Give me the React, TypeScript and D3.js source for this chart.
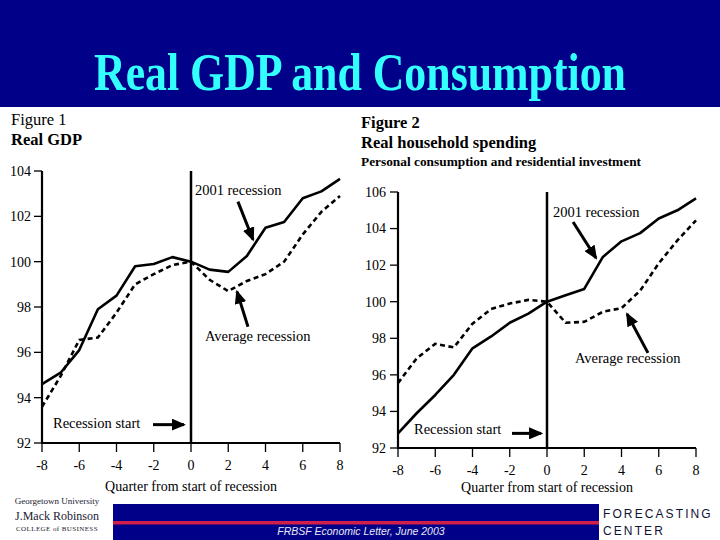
import React from 'react';
import * as d3 from 'd3';

// quarters from start of recession
const quarters = [-8, -7, -6, -5, -4, -3, -2, -1, 0, 1, 2, 3, 4, 5, 6, 7, 8];
const xTicks = [-8, -6, -4, -2, 0, 2, 4, 6, 8];

// Figure 1: real GDP (index, start of recession = 100)
const gdp2001 = [94.6, 95.1, 96.1, 97.9, 98.5, 99.8, 99.9, 100.2, 100.0, 99.65, 99.55, 100.25, 101.5, 101.75, 102.8, 103.1, 103.65];
const gdpAvg = [93.6, 94.95, 96.55, 96.65, 97.75, 99.0, 99.45, 99.85, 100.0, 99.2, 98.7, 99.15, 99.45, 100.0, 101.2, 102.2, 102.9];
const gdpTicks = [92, 94, 96, 98, 100, 102, 104];

// Figure 2: real household spending
const spend2001 = [92.8, 93.9, 94.9, 96.0, 97.45, 98.1, 98.85, 99.35, 100.0, 100.35, 100.7, 102.45, 103.3, 103.75, 104.55, 105.0, 105.65];
const spendAvg = [95.55, 96.9, 97.7, 97.5, 98.8, 99.6, 99.9, 100.1, 100.0, 98.85, 98.9, 99.45, 99.65, 100.6, 102.1, 103.35, 104.45];
const spendTicks = [92, 94, 96, 98, 100, 102, 104, 106];

interface Note {
  text: string;
  tx: number; ty: number;          // text anchor (data units)
  ax: number[]; ay: number[];      // arrow from -> to (data units)
}

const gdpNotes: Note[] = [
  { text: '2001 recession', tx: 0.21, ty: 102.95, ax: [2.52, 3.33], ay: [102.65, 100.97] },
  { text: 'Average recession', tx: 0.75, ty: 96.5, ax: [3.06, 2.47], ay: [97.13, 98.68] },
  { text: 'Recession start', tx: -7.41, ty: 92.68, ax: [-2.04, -0.38], ay: [92.81, 92.81] },
];
const spendNotes: Note[] = [
  { text: '2001 recession', tx: 0.32, ty: 104.63, ax: [1.4, 2.63], ay: [104.36, 102.39] },
  { text: 'Average recession', tx: 1.5, ty: 96.65, ax: [5.42, 4.3], ay: [97.2, 99.33] },
  { text: 'Recession start', tx: -7.14, ty: 92.77, ax: [-1.88, -0.32], ay: [92.8, 92.8] },
];

const serif = '"Liberation Serif", "DejaVu Serif", serif';
const sans = '"Liberation Sans", Arial, sans-serif';
const navy = '#000088';

interface PanelProps {
  left: number; right: number; top: number; bottom: number;
  yTicks: number[];
  solid: number[]; dashed: number[];
  notes: Note[];
  labelRight: number;
  xLabelY: number;
}

function Panel({ left, right, top, bottom, yTicks, solid, dashed, notes, labelRight, xLabelY }: PanelProps) {
  const x = d3.scaleLinear().domain([-8, 8]).range([left, right]);
  const y = d3.scaleLinear().domain([yTicks[0], yTicks[yTicks.length - 1]]).range([bottom, top]);
  const line = d3.line<number>()
    .x((_, i) => x(quarters[i]))
    .y(d => y(d))
    .curve(d3.curveLinear);

  return (
    <g>
      {/* axes */}
      <line x1={left} x2={left} y1={top} y2={bottom + 1} stroke="#000" strokeWidth={2.2} />
      <line x1={left - 1} x2={right} y1={bottom} y2={bottom} stroke="#000" strokeWidth={2.2} />
      {yTicks.map(t => (
        <g key={t}>
          <line x1={left - 8} x2={left} y1={y(t)} y2={y(t)} stroke="#000" strokeWidth={1.3} />
          <text x={labelRight} y={y(t)} dy="0.35em" textAnchor="end" fontSize={14} fontFamily={serif}>{t}</text>
        </g>
      ))}
      {xTicks.map(t => (
        <g key={t}>
          <line x1={x(t)} x2={x(t)} y1={bottom} y2={bottom + 9} stroke="#000" strokeWidth={1.3} />
          <text x={x(t)} y={bottom + 27} textAnchor="middle" fontSize={14} fontFamily={serif}>{t}</text>
        </g>
      ))}
      <text x={x(0)} y={xLabelY} textAnchor="middle" fontSize={14} fontFamily={serif}>Quarter from start of recession</text>

      {/* recession start */}
      <line x1={x(0)} x2={x(0)} y1={top} y2={bottom} stroke="#000" strokeWidth={2.5} />

      {/* series */}
      <path d={line(dashed) || ''} fill="none" stroke="#000" strokeWidth={2.6} strokeDasharray="5,3.5" />
      <path d={line(solid) || ''} fill="none" stroke="#000" strokeWidth={2.6} strokeLinejoin="round" />

      {/* annotations */}
      {notes.map(n => (
        <g key={n.text}>
          <text x={x(n.tx)} y={y(n.ty)} fontSize={14.5} fontFamily={serif}>{n.text}</text>
          <line x1={x(n.ax[0])} y1={y(n.ay[0])} x2={x(n.ax[1])} y2={y(n.ay[1])}
            stroke="#000" strokeWidth={3} markerEnd="url(#arrowhead)" />
        </g>
      ))}
    </g>
  );
}

export default function App() {
  return (
    <svg width={720} height={540} style={{ position: 'absolute', left: 0, top: 0, background: '#fff' }}>
      <defs>
        <marker id="arrowhead" markerUnits="userSpaceOnUse" markerWidth={14} markerHeight={12}
          refX={12} refY={6} orient="auto" viewBox="0 0 14 12">
          <path d="M0,0 L14,6 L0,12 Z" fill="#000" />
        </marker>
      </defs>

      {/* header */}
      <rect x={0} y={0} width={720} height={107} fill={navy} />
      <text x={360} y={75} textAnchor="middle" fontSize={44} fontWeight="bold" fontFamily={serif}
        fill="#33ffff" transform="translate(0,15) scale(1,1.2) translate(0,-12.5)" textLength={532} lengthAdjust="spacingAndGlyphs">
        Real GDP and Consumption
      </text>

      {/* figure 1 */}
      <text x={11} y={125} fontSize={16.5} fontFamily={serif}>Figure 1</text>
      <text x={11} y={145} fontSize={16.5} fontWeight="bold" fontFamily={serif}>Real GDP</text>
      <Panel left={42} right={340} top={171} bottom={443} yTicks={gdpTicks}
        solid={gdp2001} dashed={gdpAvg} notes={gdpNotes} labelRight={31} xLabelY={491} />

      {/* figure 2 */}
      <text x={361} y={128} fontSize={16.5} fontWeight="bold" fontFamily={serif}>Figure 2</text>
      <text x={361} y={148} fontSize={16.5} fontFamily={serif} fontWeight="600">Real household spending</text>
      <text x={361} y={166} fontSize={13} fontFamily={serif} fontWeight="600"
        textLength={280} lengthAdjust="spacingAndGlyphs">Personal consumption and residential investment</text>
      <Panel left={398} right={696} top={192} bottom={448} yTicks={spendTicks}
        solid={spend2001} dashed={spendAvg} notes={spendNotes} labelRight={386} xLabelY={492} />

      {/* footer */}
      <rect x={113} y={504} width={486} height={36} fill={navy} />
      <rect x={113} y={521} width={486} height={3.5} fill="#d0204a" />
      <text x={361} y={535} textAnchor="middle" fontSize={10.5} fontStyle="italic" fontFamily={sans} fill="#e8e8f0">
        FRBSF Economic Letter, June 2003
      </text>
      <text x={57} y={504} textAnchor="middle" fontSize={9} fontFamily={serif} fill="#223">Georgetown University</text>
      <text x={57} y={520} textAnchor="middle" fontSize={12} fontFamily={serif} fill="#223">J.Mack Robinson</text>
      <text x={57} y={531} textAnchor="middle" fontSize={7} fontFamily={serif} fill="#223" letterSpacing={0.4}>COLLEGE of BUSINESS</text>
      <text x={603} y={518} fontSize={12} fontFamily={sans} fill="#111133" letterSpacing={2.1}>FORECASTING</text>
      <text x={603} y={535} fontSize={12} fontFamily={sans} fill="#111133" letterSpacing={2.1}>CENTER</text>
    </svg>
  );
}
